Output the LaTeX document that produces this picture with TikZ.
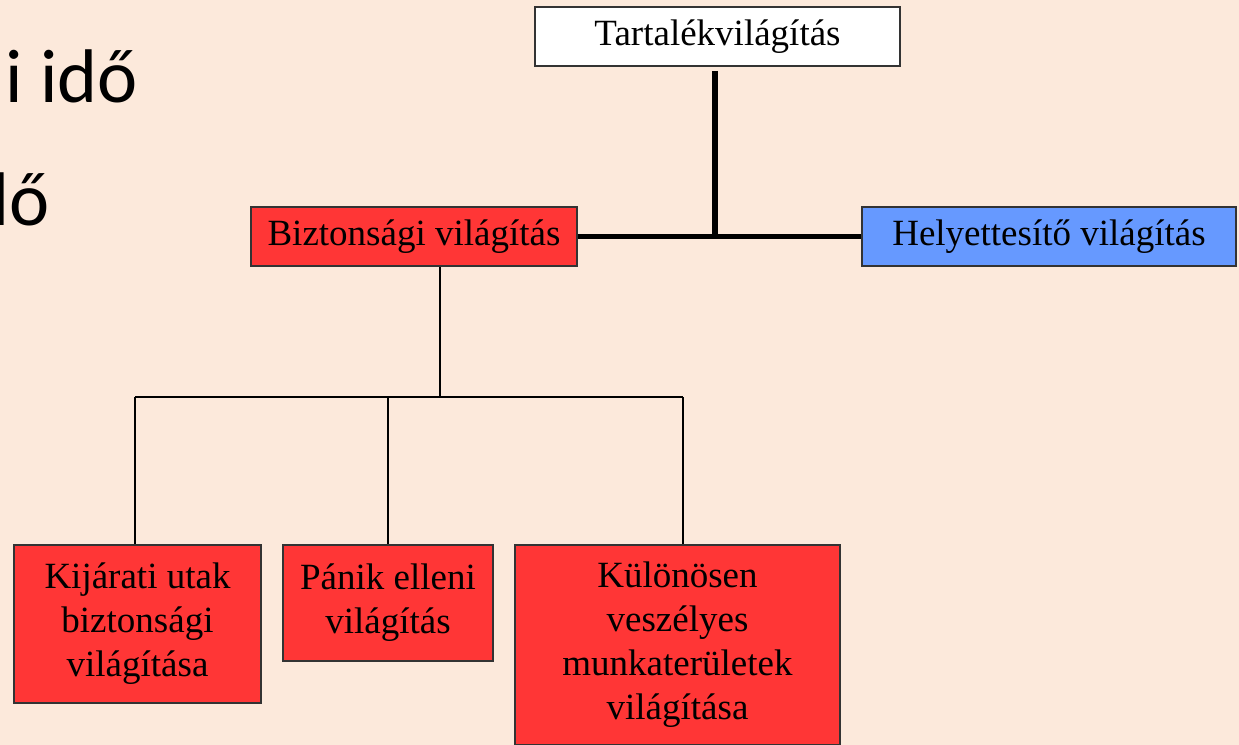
\documentclass[tikz,border=0pt]{standalone}
\usepackage{fontspec}
\setmainfont{Liberation Serif}
\newfontfamily\diafont{Carlito}
\usepackage{xcolor}
\definecolor{hatter}{HTML}{FCE9DB}
\definecolor{piros}{HTML}{FF3636}
\definecolor{kek}{HTML}{6699FF}

\begin{document}
\begin{tikzpicture}[x=0.5pt,y=-0.5pt]
			\tikzstyle{doboz} = [draw=black!80, line width=0.75pt, inner sep=0pt, align=center, font=\fontsize{18.5}{22}\selectfont]
			\tikzstyle{fo} = [line width=2.6pt]
			\tikzstyle{ag} = [line width=1.2pt]
			\tikzset{dia/.style = {font=\diafont\fontsize{38}{40}\selectfont, inner sep=0pt}}
			
			\fill[hatter] (0,0) rectangle (1239,745);
			\useasboundingbox (0,0) rectangle (1239,745);
			
			\begin{scope}
			\clip (0,0) rectangle (1239,745);
			\node[dia, anchor=base east](sor1) at (138,102) {i idő};
			\node[dia, anchor=base east](sor2) at (50,225) {dő};
			\end{scope}
			
			\node[doboz, fill=white, minimum width=182.5pt, minimum height=29.5pt](tartalek) at (717.5,36.5) {Tartalékvilágítás};
			\node[doboz, fill=piros, minimum width=163pt, minimum height=29.5pt](biztonsagi) at (414,236.5) {Biztonsági világítás};
			\node[doboz, fill=kek, minimum width=187pt, minimum height=29.5pt](helyettesito) at (1049,236.5) {Helyettesítő világítás};
			
			\coordinate (felso) at (715,238);
			\draw[fo, shorten <=2pt](tartalek.south -| felso) -- (felso);
			\draw[fo](biztonsagi.east) -- (helyettesito.west);
			
			\node[doboz, fill=piros, minimum width=123.5pt, minimum height=79pt](kijarati) at (137.5,624) {Kijárati utak\\biztonsági\\világítása};
			\node[doboz, fill=piros, minimum width=105pt, minimum height=58pt](panik) at (388,603) {Pánik elleni\\világítás};
			\node[doboz, fill=piros, minimum width=162.5pt, minimum height=100pt](kulonosen) at (677.5,645) {Különösen\\veszélyes\\munkaterületek\\világítása};
			
			\coordinate (elagazas) at (440,397);
			\coordinate (bal) at (135,397);
			\coordinate (jobb) at (683,397);
			\draw[ag](biztonsagi.south -| elagazas) -- (elagazas);
			\draw[ag](bal) -- (jobb);
			\draw[ag](bal) -- (bal |- kijarati.north);
			\draw[ag](panik.north |- bal) -- (panik.north);
			\draw[ag](jobb) -- (jobb |- kulonosen.north);
			
\end{tikzpicture}
\end{document}
